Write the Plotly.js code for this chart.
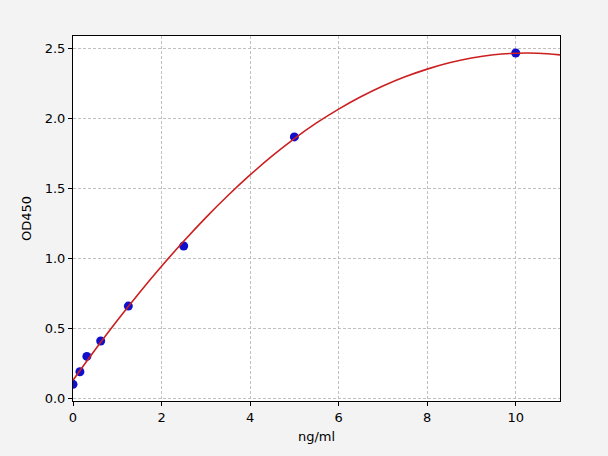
<!DOCTYPE html>
<html>
<head>
<meta charset="utf-8">
<script src="https://cdn.plot.ly/plotly-3.0.1.min.js"></script>
<style>html,body{margin:0;padding:0;background:#f3f3f3;}#chart{width:608px;height:456px;}</style>
</head>
<body>
<div id="chart"></div>
<script>
// Standard points (concentration ng/ml, OD450)
var concentrations = [0, 0.156, 0.3125, 0.625, 1.25, 2.5, 5, 10];
var odValues = [0.10, 0.19, 0.30, 0.41, 0.66, 1.09, 1.87, 2.47];

// Fitted curve
var curveX = [0, 0.5, 1, 1.5, 2, 2.5, 3, 3.5, 4, 4.5, 5, 5.5, 6, 6.5, 7, 7.5, 8, 8.5, 9, 9.5, 10, 10.5, 11];
var curveY = [0.130, 0.348, 0.557, 0.756, 0.945, 1.124, 1.293, 1.451, 1.598, 1.734, 1.858, 1.970, 2.069, 2.157, 2.234, 2.300, 2.355, 2.400, 2.435, 2.458, 2.469, 2.469, 2.457];

var xTicks = [0, 2, 4, 6, 8, 10];
var yTicks = [0.0, 0.5, 1.0, 1.5, 2.0, 2.5];
var yTickText = ['0.0', '0.5', '1.0', '1.5', '2.0', '2.5'];

var font = {family: 'DejaVu Sans, sans-serif', size: 13, color: '#000'};

var traces = [
  {x: concentrations, y: odValues, mode: 'markers', type: 'scatter',
   marker: {color: '#1010cc', size: 9, line: {width: 0}}, hoverinfo: 'skip'},
  {x: curveX, y: curveY, mode: 'lines', type: 'scatter',
   line: {color: '#cc1f1f', width: 1.6, shape: 'spline'}, hoverinfo: 'skip'}
];

var axisCommon = {
  showline: true, mirror: true, linecolor: '#000', linewidth: 1,
  ticks: 'outside', ticklen: 4, tickwidth: 1, tickcolor: '#000',
  showgrid: true, gridcolor: '#b0b0b0', gridwidth: 0.8, griddash: '3px,2px',
  zeroline: false, tickfont: font
};

var layout = {
  width: 608, height: 456,
  paper_bgcolor: '#f3f3f3', plot_bgcolor: '#ffffff',
  margin: {l: 73, r: 48, t: 36, b: 55, pad: 0},
  showlegend: false,
  xaxis: Object.assign({}, axisCommon, {
    range: [0, 11], tickvals: xTicks, ticktext: xTicks.map(String),
    title: {text: 'ng/ml', font: font, standoff: 8}
  }),
  yaxis: Object.assign({}, axisCommon, {
    range: [-0.019, 2.592], tickvals: yTicks, ticktext: yTickText,
    title: {text: 'OD450', font: font, standoff: 10}
  })
};

Plotly.newPlot('chart', traces, layout, {staticPlot: true, displayModeBar: false});
</script>
</body>
</html>
